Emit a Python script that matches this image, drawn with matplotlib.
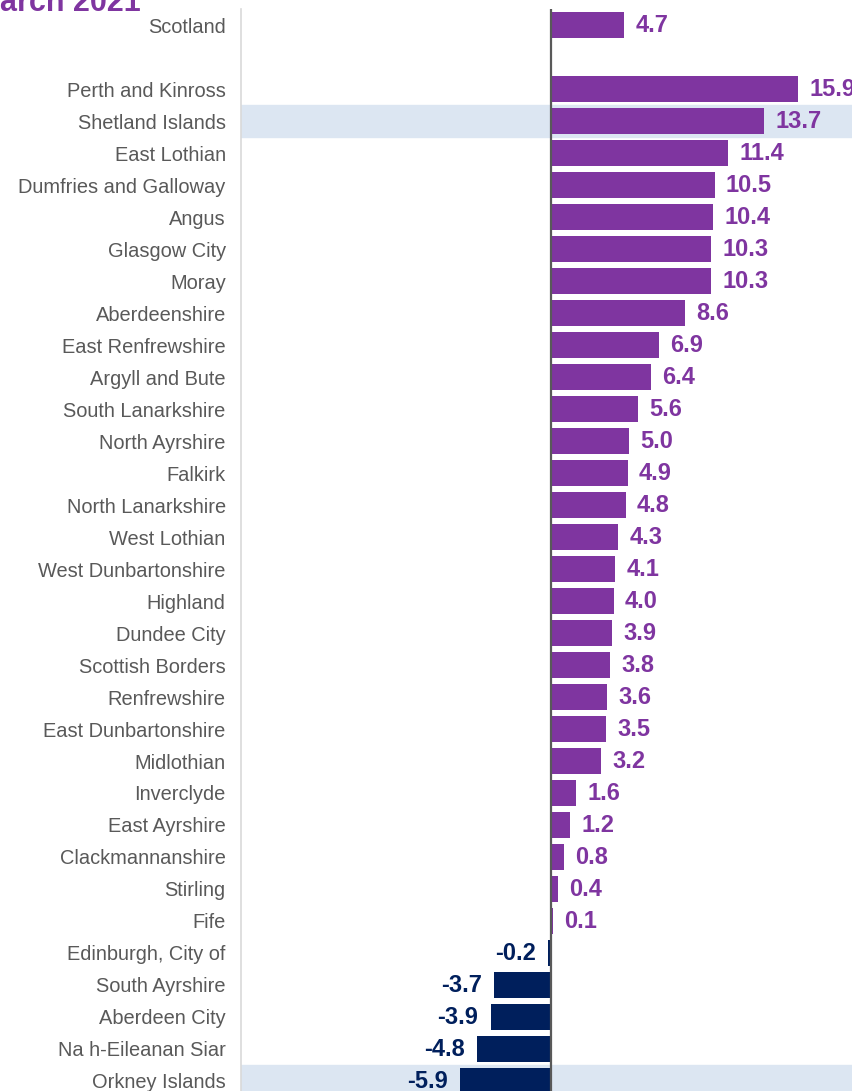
import matplotlib
matplotlib.use("Agg")
import matplotlib.pyplot as plt

plt.rcParams['font.family'] = ['Liberation Sans', 'DejaVu Sans']

# data
areas = ["Scotland", "",
         "Perth and Kinross", "Shetland Islands", "East Lothian", "Dumfries and Galloway",
         "Angus", "Glasgow City", "Moray", "Aberdeenshire", "East Renfrewshire",
         "Argyll and Bute", "South Lanarkshire", "North Ayrshire", "Falkirk",
         "North Lanarkshire", "West Lothian", "West Dunbartonshire", "Highland",
         "Dundee City", "Scottish Borders", "Renfrewshire", "East Dunbartonshire",
         "Midlothian", "Inverclyde", "East Ayrshire", "Clackmannanshire", "Stirling",
         "Fife", "Edinburgh, City of", "South Ayrshire", "Aberdeen City",
         "Na h-Eileanan Siar", "Orkney Islands"]
values = [4.7, None,
          15.9, 13.7, 11.4, 10.5, 10.4, 10.3, 10.3, 8.6, 6.9, 6.4, 5.6, 5.0, 4.9,
          4.8, 4.3, 4.1, 4.0, 3.9, 3.8, 3.6, 3.5, 3.2, 1.6, 1.2, 0.8, 0.4, 0.1,
          -0.2, -3.7, -3.9, -4.8, -5.9]
highlight = ["Shetland Islands", "Orkney Islands"]

purple = '#7f35a0'
navy = '#001f5c'
grey = '#595959'

W, H = 852, 1091
fig = plt.figure(figsize=(W / 100, H / 100), dpi=100)
ax = fig.add_axes([241 / W, 1 - 1097 / H, (W - 241) / W, 1088 / H])

pos = list(range(len(areas)))
for p, name in zip(pos, areas):
    if name in highlight:
        ax.axhspan(p - 0.5, p + 0.5, color='#dce6f2', zorder=0)

for p, v in zip(pos, values):
    if v is None:
        continue
    c = purple if v >= 0 else navy
    ax.barh(p, v, height=0.8, color=c, zorder=2)
    ax.annotate(f"{v:.1f}", (v, p), xytext=(8 if v >= 0 else -9, -0.5),
                textcoords='offset points', va='center',
                ha='left' if v >= 0 else 'right',
                fontsize=17, fontweight='bold', color=c)

ax.axvline(0, color=grey, lw=1.6, zorder=3)
ax.set_xlim(-20, (W - 551) / 15.55)
ax.set_ylim(len(areas) - 0.5, -0.5)
ax.set_yticks(pos)
ax.set_yticklabels(areas, fontsize=14.4, color=grey)
ax.tick_params(axis='y', length=0, pad=11)
ax.set_xticks([])
for s in ['top', 'right', 'bottom']:
    ax.spines[s].set_visible(False)
ax.spines['left'].set_color('#d9d9d9')
ax.spines['left'].set_linewidth(1.2)

fig.text(0, 1 - 11 / H, "arch 2021", fontsize=22, fontweight='bold',
         color=purple, ha='left', va='baseline')

fig.savefig("out.png", dpi=100)
